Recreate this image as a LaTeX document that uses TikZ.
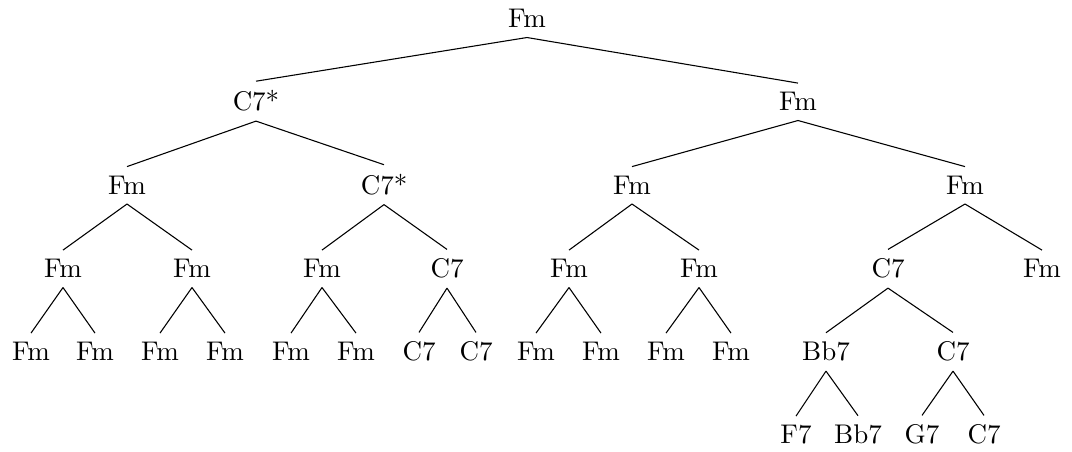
\documentclass[tikz,border=0pt]{standalone}
\begin{document}
\begin{tikzpicture}[x=0.37037pt,y=-0.37037pt,
  tnode/.style={anchor=base,inner sep=3.33pt},
  branch/.style={line width=0.4pt}]
\useasboundingbox (0,0) rectangle (1072,452);
% level 1
\node[tnode] (r) at (527,28) {Fm};
% level 2
\node[tnode] (a) at (256,111) {C7*};
\node[tnode] (b) at (798,111) {Fm};
% level 3
\node[tnode] (aa) at (127,194.5) {Fm};
\node[tnode] (ab) at (384,194.5) {C7*};
\node[tnode] (ba) at (632,194.5) {Fm};
\node[tnode] (bb) at (965,194.5) {Fm};
% level 4
\node[tnode] (aaa) at (63,278) {Fm};
\node[tnode] (aab) at (192,278) {Fm};
\node[tnode] (aba) at (322,278) {Fm};
\node[tnode] (abb) at (447,278) {C7};
\node[tnode] (baa) at (569,278) {Fm};
\node[tnode] (bab) at (699,278) {Fm};
\node[tnode] (bba) at (888,278) {C7};
\node[tnode] (bbb) at (1042,278) {Fm};
% level 5
\node[tnode] (l1) at (31,361) {Fm};
\node[tnode] (l2) at (95,361) {Fm};
\node[tnode] (l3) at (160,361) {Fm};
\node[tnode] (l4) at (225,361) {Fm};
\node[tnode] (l5) at (291,361) {Fm};
\node[tnode] (l6) at (356,361) {Fm};
\node[tnode] (l7) at (419,361) {C7};
\node[tnode] (l8) at (476,361) {C7};
\node[tnode] (l9) at (536,361) {Fm};
\node[tnode] (l10) at (601,361) {Fm};
\node[tnode] (l11) at (666,361) {Fm};
\node[tnode] (l12) at (731,361) {Fm};
\node[tnode] (bbaa) at (826,361) {Bb7};
\node[tnode] (bbab) at (953,361) {C7};
% level 6
\node[tnode] (m1) at (796,444) {F7};
\node[tnode] (m2) at (858,444) {Bb7};
\node[tnode] (m3) at (922,444) {G7};
\node[tnode] (m4) at (984,444) {C7};
% branches
\foreach \p/\c in {r/a,r/b,a/aa,a/ab,b/ba,b/bb,
  aa/aaa,aa/aab,ab/aba,ab/abb,ba/baa,ba/bab,bb/bba,bb/bbb,
  aaa/l1,aaa/l2,aab/l3,aab/l4,aba/l5,aba/l6,abb/l7,abb/l8,
  baa/l9,baa/l10,bab/l11,bab/l12,bba/bbaa,bba/bbab,
  bbaa/m1,bbaa/m2,bbab/m3,bbab/m4}
  \draw[branch] (\p.south) -- (\c.north);
\end{tikzpicture}
\end{document}
